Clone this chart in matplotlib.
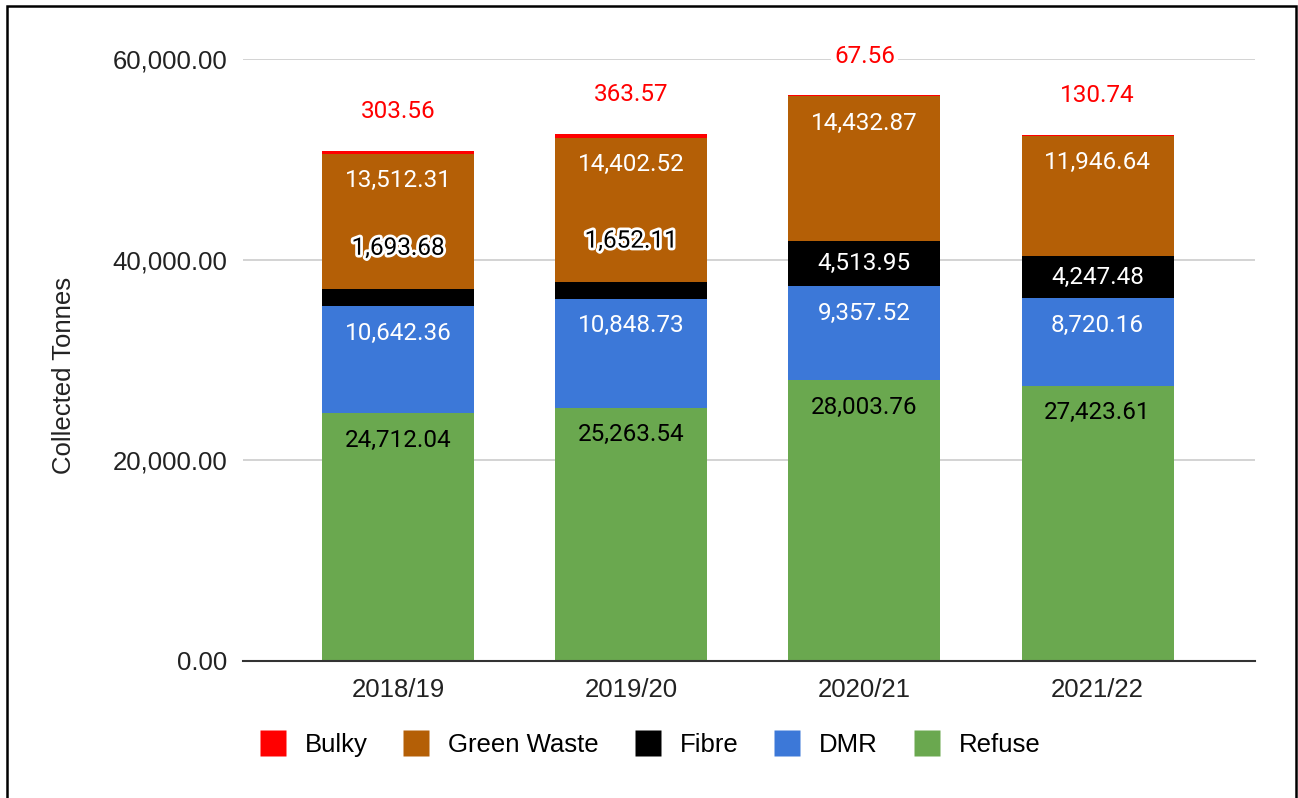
import matplotlib
matplotlib.use('Agg')
import matplotlib.pyplot as plt
import matplotlib.patheffects as pe
from matplotlib.lines import Line2D
from matplotlib.patches import Rectangle
import numpy as np

# data
years = ['2018/19', '2019/20', '2020/21', '2021/22']
refuse = [24712.04, 25263.54, 28003.76, 27423.61]
dmr = [10642.36, 10848.73, 9357.52, 8720.16]
fibre = [1693.68, 1652.11, 4513.95, 4247.48]
green_waste = [13512.31, 14402.52, 14432.87, 11946.64]
bulky = [303.56, 363.57, 67.56, 130.74]

series_names = ['Refuse', 'DMR', 'Fibre', 'Green Waste', 'Bulky']
series_values = [refuse, dmr, fibre, green_waste, bulky]
series_colours = ['#6aa84f', '#3c78d8', '#000000', '#b45f06', '#ff0000']
label_colours = ['black', 'white', 'white', 'white', 'red']

plt.rcParams['font.family'] = ['Liberation Sans', 'DejaVu Sans']
label_font = ['Roboto', 'DejaVu Sans']

fig = plt.figure(figsize=(12.98, 7.98), dpi=100)
ax = fig.add_axes([243 / 1298, 1 - 661 / 798, 1012 / 1298, 602 / 798])

x = np.arange(len(years))
px = 60000 / 602  # data units per pixel
bottom = np.zeros(len(years))
for name, vals, col, lcol in zip(series_names, series_values, series_colours, label_colours):
    vals = np.array(vals)
    ax.bar(x, vals, bottom=bottom, color=col, width=0.652, edgecolor='none', zorder=3)
    for i in range(len(years)):
        top = bottom[i] + vals[i]
        centre = bottom[i] + vals[i] / 2
        txt = f'{vals[i]:,.2f}'
        if name == 'Bulky':
            ax.text(x[i], top + 39 * px, txt, ha='center', va='center', fontsize=17.5,
                    color=lcol, zorder=5, family=label_font,
                    bbox=dict(facecolor='white', edgecolor='none', pad=2))
        elif vals[i] < 3000:
            # too small to fit, label sits above with a white halo
            ax.text(x[i], top + 41 * px, txt, ha='center', va='center', fontsize=17.5,
                    color='black', zorder=5, family=label_font,
                    path_effects=[pe.withStroke(linewidth=4, foreground='white')])
        else:
            y = max(centre, top - 27 * px)
            ax.text(x[i], y, txt, ha='center', va='center', fontsize=17.5,
                    color=lcol, zorder=5, family=label_font)
    bottom += vals

ax.set_xlim(-0.665, 3.675)
ax.set_ylim(0, 60000)
ax.set_yticks([0, 20000, 40000, 60000])
ax.set_yticklabels([f'{v:,.2f}' for v in [0, 20000, 40000, 60000]])
ax.set_xticks(x)
ax.set_xticklabels(years)
ax.grid(axis='y', color='#cccccc', linewidth=1.2, zorder=0)
for s in ['top', 'right', 'left']:
    ax.spines[s].set_visible(False)
ax.spines['bottom'].set_color('#333333')
ax.spines['bottom'].set_linewidth(1.5)
ax.spines['bottom'].set_zorder(4)
ax.tick_params(axis='y', length=0, pad=11, labelsize=18.5, colors='#222222')
ax.tick_params(axis='x', length=0, pad=12, labelsize=18.5, colors='#222222')
ax.set_ylabel('Collected Tonnes', fontsize=18.5, color='#222222')
ax.yaxis.set_label_coords(-0.165, 0.475)

# legend
legend_order = ['Bulky', 'Green Waste', 'Fibre', 'DMR', 'Refuse']
handles = [Line2D([], [], marker='s', linestyle='none', markersize=19,
                  markerfacecolor=series_colours[series_names.index(n)],
                  markeredgecolor='none') for n in legend_order]
fig.legend(handles, legend_order, loc='center', bbox_to_anchor=(0.5008, 1 - 745 / 798),
           ncol=5, frameon=False, handlelength=1.0, handletextpad=0.74,
           columnspacing=1.4, prop={'family': 'Liberation Sans', 'size': 18.5})

# outer border
fig.patches.append(Rectangle((7 / 1298, -0.05), 1289 / 1298, 1.05 - 6 / 798,
                             transform=fig.transFigure, fill=False,
                             edgecolor='black', linewidth=1.8))

plt.savefig('out.png', dpi=100)
